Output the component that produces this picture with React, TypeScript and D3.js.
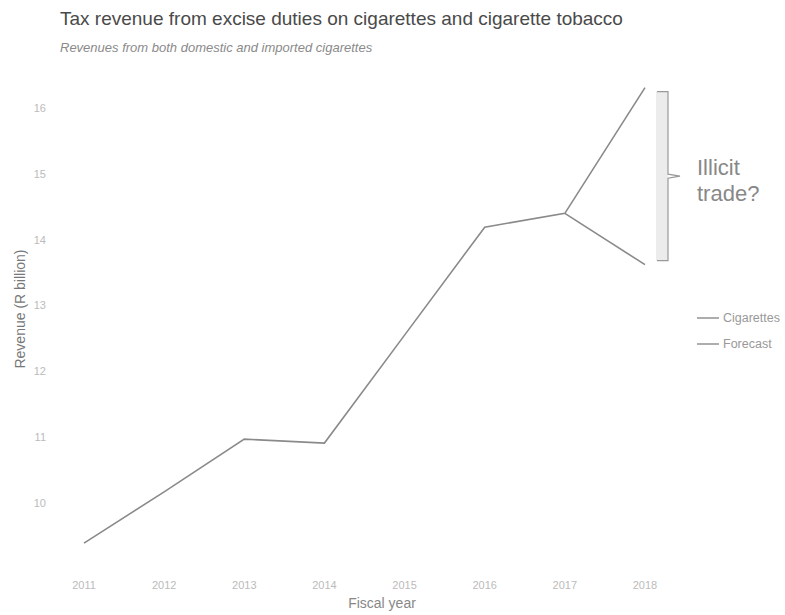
import React from "react";
import * as d3 from "d3";

const years = ["2011", "2012", "2013", "2014", "2015", "2016", "2017", "2018"];
const cigarettes = [9.39, 10.17, 10.97, 10.91, 12.55, 14.19, 14.4, 16.31];
const forecastYears = ["2017", "2018"];
const forecast = [14.4, 13.62];
const yTicks = [10, 11, 12, 13, 14, 15, 16];

export default function App() {
  const W = 785, H = 615;
  const x = d3.scalePoint<string>().domain(years).range([84, 645]);
  const y = d3.scaleLinear().domain([10, 16]).range([503, 108]);
  const line = d3.line<[string, number]>().x(d => x(d[0])!).y(d => y(d[1]));
  const cigData: [string, number][] = years.map((yr, i) => [yr, cigarettes[i]]);
  const fData: [string, number][] = forecastYears.map((yr, i) => [yr, forecast[i]]);

  const topY = y(cigarettes[7]) + 4;
  const botY = y(forecast[1]) - 4;
  const midY = (topY + botY) / 2;
  const bx = 668;
  const font = "'Liberation Sans', Arial, sans-serif";
  const lineColor = "#8a8a8a";

  const bracePath = `M${bx - 11},${topY} L${bx},${topY} L${bx},${midY - 2} L${bx + 12},${midY} L${bx},${midY + 2} L${bx},${botY} L${bx - 11},${botY}`;

  return (
    <svg width={W} height={H} style={{ position: "absolute", left: 0, top: 0, background: "#fff" }} fontFamily={font}>
      <rect width={W} height={H} fill="#fff" />
      <text x={60} y={25} fontSize={19} fill="#4a4a4a">Tax revenue from excise duties on cigarettes and cigarette tobacco</text>
      <text x={60} y={52} fontSize={13} fontStyle="italic" fill="#8a8a8a">Revenues from both domestic and imported cigarettes</text>

      {yTicks.map(t => (
        <text key={t} x={46} y={y(t)} dy="0.35em" textAnchor="end" fontSize={11} fill="#bbb">{t}</text>
      ))}
      <text transform={`translate(25,${309}) rotate(-90)`} textAnchor="middle" fontSize={14} fill="#777">Revenue (R billion)</text>

      {years.map(yr => (
        <text key={yr} x={x(yr)!} y={589} textAnchor="middle" fontSize={11} fill="#bbb">{yr}</text>
      ))}
      <text x={382} y={608} textAnchor="middle" fontSize={14} fill="#888">Fiscal year</text>

      <rect x={bx - 12} y={topY} width={12} height={botY - topY} fill="#ececec" />
      <path d={bracePath} fill="none" stroke="#999" strokeWidth={1.2} />
      <text x={697} y={175} fontSize={22} fill="#888">Illicit</text>
      <text x={697} y={201} fontSize={22} fill="#888">trade?</text>

      <path d={line(cigData)!} fill="none" stroke={lineColor} strokeWidth={1.6} />
      <path d={line(fData)!} fill="none" stroke={lineColor} strokeWidth={1.6} />

      <line x1={697} x2={719} y1={318} y2={318} stroke={lineColor} strokeWidth={1.4} />
      <text x={723} y={318} dy="0.35em" fontSize={12.5} fill="#999">Cigarettes</text>
      <line x1={697} x2={719} y1={344} y2={344} stroke={lineColor} strokeWidth={1.4} />
      <text x={723} y={344} dy="0.35em" fontSize={12.5} fill="#999">Forecast</text>
    </svg>
  );
}
